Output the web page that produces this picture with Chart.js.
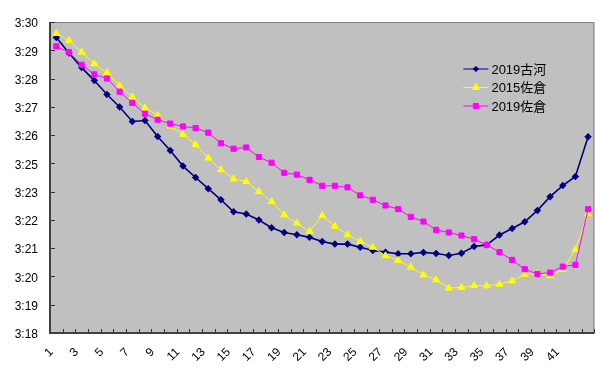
<!DOCTYPE html>
<html lang="ja">
<head>
<meta charset="utf-8">
<title>ラップ比較</title>
<script src="https://cdn.jsdelivr.net/npm/chart.js@4.4.1/dist/chart.umd.min.js"></script>
<style>
  html, body { margin: 0; padding: 0; background: #fff; }
  #wrap { width: 600px; height: 373px; }
</style>
</head>
<body>
<div id="wrap"><canvas id="lap-chart" width="600" height="373"></canvas></div>
<script>
// 区間
const categories = ['1', '2', '3', '4', '5', '6', '7', '8', '9', '10',
  '11', '12', '13', '14', '15', '16', '17', '18', '19', '20',
  '21', '22', '23', '24', '25', '26', '27', '28', '29', '30',
  '31', '32', '33', '34', '35', '36', '37', '38', '39', '40',
  '41', '42', '43'];

// 3分台の秒数 (29.40 = 3:29.40)
const koga2019 = [29.40, 28.80, 28.24, 27.74, 27.20, 26.72, 26.16, 26.20, 25.58, 25.04,
  24.44, 24.00, 23.57, 23.14, 22.68, 22.59, 22.36, 22.06, 21.88, 21.79,
  21.69, 21.53, 21.43, 21.43, 21.31, 21.18, 21.12, 21.06, 21.06, 21.11,
  21.07, 20.99, 21.08, 21.34, 21.40, 21.78, 22.03, 22.29, 22.73, 23.26,
  23.69, 24.04, 25.57];
const sakura2015 = [29.56, 29.28, 28.84, 28.39, 28.05, 27.54, 27.11, 26.68, 26.40, 25.98,
  25.66, 25.27, 24.75, 24.30, 23.94, 23.85, 23.46, 23.07, 22.56, 22.24,
  21.92, 22.53, 22.11, 21.79, 21.53, 21.31, 20.98, 20.80, 20.54, 20.24,
  20.05, 19.73, 19.76, 19.83, 19.82, 19.88, 20.01, 20.27, 20.29, 20.21,
  20.45, 21.22, 22.59];
const sakura2019 = [29.06, 28.83, 28.35, 27.98, 27.82, 27.31, 26.88, 26.46, 26.23, 26.08,
  25.97, 25.91, 25.73, 25.32, 25.11, 25.16, 24.79, 24.57, 24.18, 24.11,
  23.91, 23.68, 23.68, 23.62, 23.31, 23.14, 22.92, 22.78, 22.48, 22.30,
  21.98, 21.88, 21.76, 21.62, 21.40, 21.12, 20.82, 20.46, 20.28, 20.33,
  20.56, 20.63, 22.78];

const seriesNames = ['2019古河', '2015佐倉', '2019佐倉'];

// 目盛 (Excelの丸めで 3:24 が出ない)
const yTickLabels = ['3:18', '3:19', '3:20', '3:21', '3:22', '3:23',
  '3:25', '3:26', '3:27', '3:28', '3:29', '3:30'];
const xTickLabels = ['1', '3', '5', '7', '9', '11', '13', '15', '17', '19', '21',
  '23', '25', '27', '29', '31', '33', '35', '37', '39', '41'];

const yMin = 18;
const yMax = 30;

Chart.defaults.font.family = '"Liberation Sans", "Noto Sans CJK JP", sans-serif';
Chart.defaults.font.size = 12;
Chart.defaults.color = '#000';

// グレーの背景と枠、内向きの目盛
const framePlugin = {
  id: 'frame',
  beforeDraw(chart) {
    const { ctx, chartArea: a } = chart;
    ctx.save();
    ctx.fillStyle = '#c0c0c0';
    ctx.fillRect(a.left, a.top, a.right - a.left, a.bottom - a.top);
    ctx.restore();
  },
  beforeDatasetsDraw(chart) {
    const { ctx, chartArea: a } = chart;
    const xs = chart.scales.x;
    const ys = chart.scales.y;
    ctx.save();
    ctx.strokeStyle = '#808080';
    ctx.lineWidth = 1;
    ctx.beginPath();
    ctx.moveTo(a.left, a.top + 0.5);
    ctx.lineTo(a.right - 0.5, a.top + 0.5);
    ctx.lineTo(a.right - 0.5, a.bottom);
    ctx.stroke();

    ctx.strokeStyle = '#333';
    ctx.lineWidth = 1;
    ctx.beginPath();
    const half = (xs.getPixelForValue(1) - xs.getPixelForValue(0)) / 2;
    for (let i = 0; i <= categories.length; i++) {
      const x = Math.round(xs.getPixelForValue(i) - half) + 0.5;
      ctx.moveTo(x, a.bottom);
      ctx.lineTo(x, a.bottom - 4);
    }
    ys.ticks.forEach(t => {
      const y = Math.round(ys.getPixelForValue(t.value)) + 0.5;
      ctx.moveTo(a.left, y);
      ctx.lineTo(a.left + 5, y);
    });
    ctx.stroke();

    ctx.strokeStyle = '#404040';
    ctx.lineWidth = 2;
    ctx.beginPath();
    ctx.moveTo(a.left, a.top);
    ctx.lineTo(a.left, a.bottom);
    ctx.lineTo(a.right, a.bottom);
    ctx.stroke();
    ctx.restore();
  }
};

// 凡例 (プロット内右上)
const legendPlugin = {
  id: 'insideLegend',
  afterDraw(chart) {
    const { ctx, chartArea: a } = chart;
    const left = a.right - 131;
    const top = a.top + 47;
    ctx.save();
    chart.data.datasets.forEach((ds, i) => {
      const y = top + i * 18.5;
      ctx.strokeStyle = ds.borderColor;
      ctx.lineWidth = 1;
      ctx.beginPath();
      ctx.moveTo(left, y);
      ctx.lineTo(left + 25, y);
      ctx.stroke();
      ctx.fillStyle = ds.backgroundColor;
      ctx.strokeStyle = ds.borderColor;
      Chart.helpers.drawPoint(ctx, {
        pointStyle: ds.pointStyle, radius: ds.pointRadius, rotation: 0, borderWidth: 1
      }, left + 12.5, y);
      ctx.fillStyle = '#000';
      ctx.font = '13px "Liberation Sans", "Noto Sans CJK JP", sans-serif';
      ctx.textBaseline = 'middle';
      ctx.fillText(ds.label, left + 28, y + 1);
    });
    ctx.restore();
  }
};

new Chart(document.getElementById('lap-chart'), {
  type: 'line',
  data: {
    labels: categories,
    datasets: [
      {
        label: seriesNames[0],
        data: koga2019,
        borderColor: '#000080',
        backgroundColor: '#000080',
        borderWidth: 1.6,
        pointStyle: 'rectRot',
        pointRadius: 2.6,
        order: 3
      },
      {
        label: seriesNames[1],
        data: sakura2015,
        borderColor: '#ffff00',
        backgroundColor: '#ffff00',
        borderWidth: 1,
        pointStyle: 'triangle',
        pointRadius: 4,
        order: 2
      },
      {
        label: seriesNames[2],
        data: sakura2019,
        borderColor: '#ff00ff',
        backgroundColor: '#ff00ff',
        borderWidth: 1,
        pointStyle: 'rect',
        pointRadius: 3.6,
        order: 1
      }
    ]
  },
  options: {
    responsive: false,
    animation: false,
    layout: { padding: { top: 22, right: 3, left: 0, bottom: 0 } },
    elements: { line: { tension: 0 }, point: { borderWidth: 1, hoverRadius: 4 } },
    plugins: { legend: { display: false }, tooltip: { enabled: false } },
    scales: {
      x: {
        type: 'category',
        offset: true,
        grid: { display: false, drawTicks: false },
        border: { display: false },
        ticks: {
          autoSkip: false,
          minRotation: 45,
          maxRotation: 45,
          padding: 12,
          labelOffset: -5,
          callback: (v, i) => (i % 2 === 0 && xTickLabels[i / 2]) ? xTickLabels[i / 2] : ''
        },
        afterFit: s => {
          s.height = 40;
          s.paddingLeft = 0;
          s.paddingRight = 0;
        }
      },
      y: {
        min: yMin,
        max: yMax,
        grid: { display: false, drawTicks: false },
        border: { display: false },
        afterBuildTicks: s => {
          s.ticks = yTickLabels.map((_, i) => ({ value: yMin + i * (yMax - yMin) / (yTickLabels.length - 1) }));
        },
        ticks: {
          padding: 12,
          labelOffset: 2,
          callback: (v, i) => yTickLabels[i]
        },
        afterFit: s => { s.width = 50; }
      }
    }
  },
  plugins: [framePlugin, legendPlugin]
});
</script>
</body>
</html>
